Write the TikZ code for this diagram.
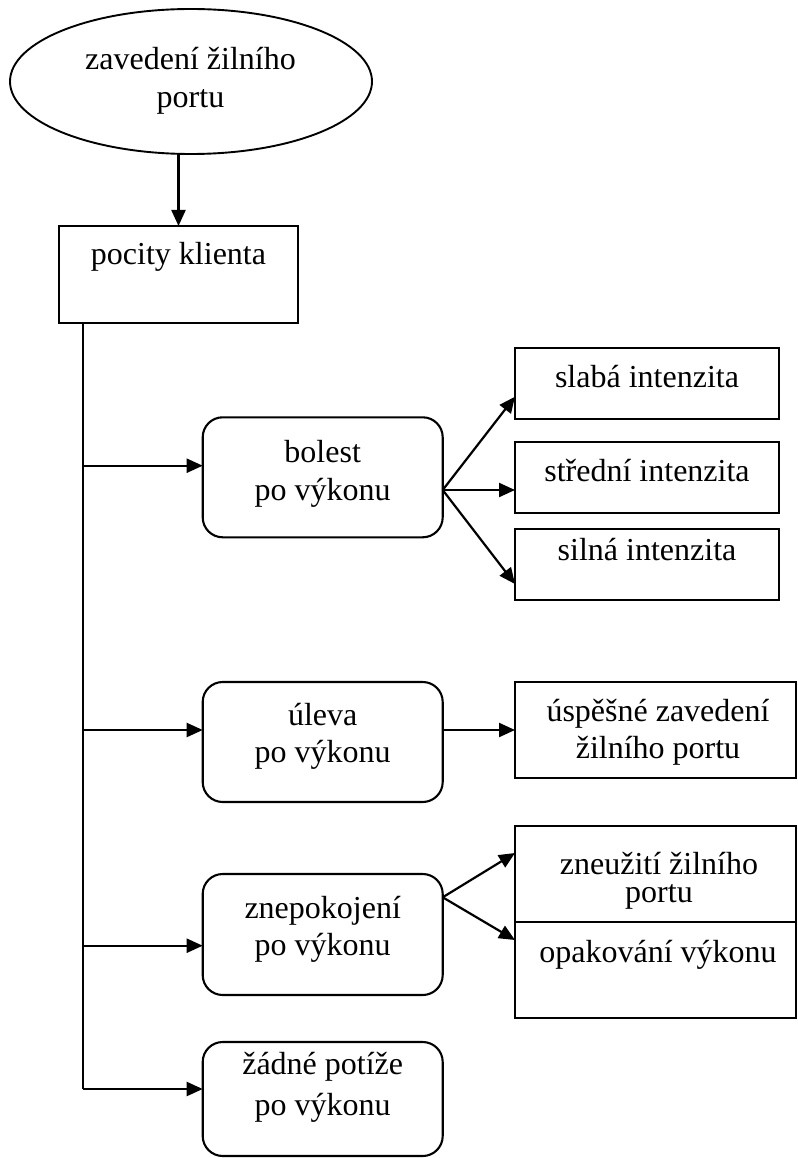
\documentclass[tikz,border=0pt]{standalone}
\usepackage{fontspec}
\setmainfont{Liberation Serif}
\usetikzlibrary{arrows.meta,shapes.geometric}

\tikzset{
  frame/.style={draw, line width=2.1pt, inner sep=0pt, outer sep=0pt},
  plainbox/.style={frame, rectangle},
  roundbox/.style={frame, rectangle, rounded corners=20pt},
  oval/.style={frame, ellipse, line width=1.9pt},
  txt/.style={anchor=base, inner sep=0pt, outer sep=0pt,
              font=\fontsize{32}{38}\selectfont},
  link/.style={line width=2.2pt},
  arr/.style={link, -{Triangle[length=16pt, width=14pt]}}
}

\begin{document}
\begin{tikzpicture}[x=1pt, y=-1pt]
\useasboundingbox (0,0) rectangle (797,1158);

% shapes
\node[oval, minimum width=362pt, minimum height=145pt] (start) at (191,81.5) {};
\node[plainbox, minimum width=239pt, minimum height=97pt] (pocity) at (178.5,274.5) {};

\node[roundbox, minimum width=240pt, minimum height=120pt] (bolest) at (322.7,477.3) {};
\node[roundbox, minimum width=240pt, minimum height=120pt] (uleva) at (322.7,742) {};
\node[roundbox, minimum width=240pt, minimum height=121pt] (znep) at (322.7,934.5) {};
\node[roundbox, minimum width=240pt, minimum height=114pt] (zadne) at (322.7,1099) {};

\node[plainbox, minimum width=264pt, minimum height=71pt] (slaba) at (647,383.5) {};
\node[plainbox, minimum width=264pt, minimum height=71pt] (stredni) at (647,477.5) {};
\node[plainbox, minimum width=264pt, minimum height=71pt] (silna) at (647,564.5) {};

\node[plainbox, minimum width=281pt, minimum height=95.4pt] (uspesne) at (655.5,730) {};
\node[plainbox, minimum width=281pt, minimum height=95.7pt] (zneuziti) at (655.5,873.85) {};
\node[plainbox, minimum width=281pt, minimum height=96.6pt] (opak) at (655.5,970) {};

% texts
\node[txt] (t-start1) at (190.5,70) {zavedení žilního};
\node[txt] (t-start2) at (190.5,108) {portu};
\node[txt] (t-pocity) at (178.5,265) {pocity klienta};

\node[txt] (t-bol1) at (322.7,462) {bolest};
\node[txt] (t-bol2) at (322.7,500) {po výkonu};
\node[txt] (t-ul1) at (322.7,725) {úleva};
\node[txt] (t-ul2) at (322.7,762) {po výkonu};
\node[txt] (t-zn1) at (322.7,918) {znepokojení};
\node[txt] (t-zn2) at (322.7,955) {po výkonu};
\node[txt] (t-za1) at (322.7,1074) {žádné potíže};
\node[txt] (t-za2) at (322.7,1115) {po výkonu};

\node[txt] (t-slaba) at (647,387.7) {slabá intenzita};
\node[txt] (t-stredni) at (647,481.7) {střední intenzita};
\node[txt] (t-silna) at (647,560) {silná intenzita};

\node[txt] (t-usp1) at (658,721.7) {úspěšné zavedení};
\node[txt] (t-usp2) at (658,758) {žilního portu};
% base anchor of a two-line node sits on its last line
\node[txt, align=center, font=\fontsize{32}{28}\selectfont] (t-zne) at (659,902) {zneužití žilního\\portu};
\node[txt] (t-opak) at (658,962.7) {opakování výkonu};

% trunk on the left
\coordinate (trunktop) at (82.7,323);
\coordinate (b1) at (82.7,465.7);
\coordinate (b2) at (82.7,730);
\coordinate (b3) at (82.7,945.7);
\coordinate (b4) at (82.7,1089);

% fan origins
\coordinate (fan1) at (442.7,490);
\coordinate (fan2) at (442.7,897.3);

% connectors
\draw[arr] (pocity.north |- start.south) -- (pocity.north);
\draw[link] (trunktop) -- (b4);
\draw[arr] (b1) -- (bolest.west |- b1);
\draw[arr] (b2) -- (uleva.west |- b2);
\draw[arr] (b3) -- (znep.west |- b3);
\draw[arr] (b4) -- (zadne.west |- b4);

\draw[arr] (fan1) -- (slaba.west |- {(0,396.7)});
\draw[arr] (fan1) -- (stredni.west |- fan1);
\draw[arr] (fan1) -- (silna.west |- {(0,584)});

\draw[arr] (uleva.east |- uspesne.west) -- (uspesne.west);

\draw[arr] (fan2) -- (zneuziti.west |- {(0,853)});
\draw[arr] (fan2) -- (opak.west |- {(0,940)});
\end{tikzpicture}
\end{document}
